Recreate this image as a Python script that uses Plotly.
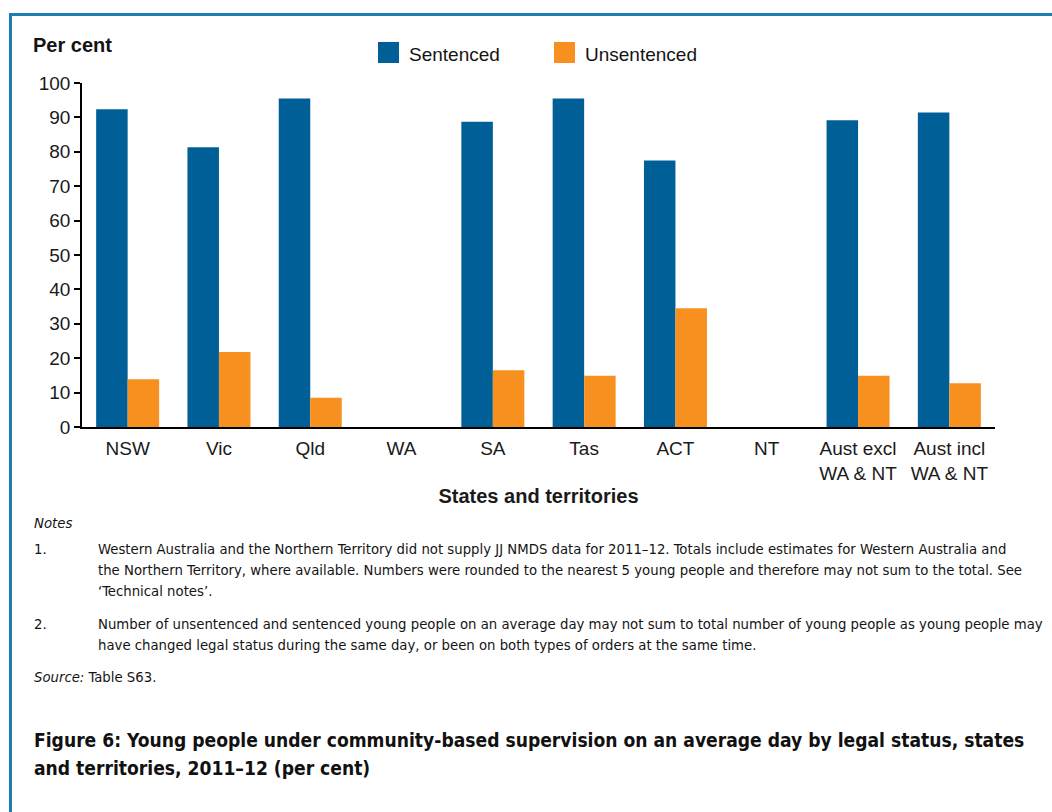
import plotly.graph_objects as go

# Data: share of young people under community-based supervision, 2011–12
categories = ["NSW", "Vic", "Qld", "WA", "SA", "Tas", "ACT", "NT",
              "Aust excl WA & NT", "Aust incl WA & NT"]
tick_labels = ["NSW", "Vic", "Qld", "WA", "SA", "Tas", "ACT", "NT",
               "Aust excl<br>WA & NT", "Aust incl<br>WA & NT"]
sentenced = [92.4, 81.3, 95.5, None, 88.7, 95.5, 77.5, None, 89.2, 91.4]
unsentenced = [13.9, 21.8, 8.5, None, 16.5, 14.9, 34.5, None, 14.9, 12.7]
y_ticks = list(range(0, 101, 10))

BLUE = "#005f96"
ORANGE = "#f7901e"
FRAME = "#1b7db2"

W, H = 1052, 812
L, R, T = 82, 995, 83
Y0 = 426.7  # pixel row of the zero line
PW, PH = R - L, Y0 - T

CHART_FONT = "Liberation Sans, Arial, sans-serif"
NOTE_FONT = "DejaVu Sans Condensed, sans-serif"


def px(x):
    return (x - L) / PW


def py(y):
    return (Y0 - y) / PH


fig = go.Figure()
fig.add_trace(go.Bar(x=categories, y=sentenced, name="Sentenced",
                     marker=dict(color=BLUE, line_width=0), showlegend=False))
fig.add_trace(go.Bar(x=categories, y=unsentenced, name="Unsentenced",
                     marker=dict(color=ORANGE, line_width=0), showlegend=False))

annotations = []
shapes = []


def text(x, y, s, size, family=NOTE_FONT, color="#141414", anchor="left"):
    annotations.append(dict(x=px(x), y=py(y), xref="paper", yref="paper",
                            text=s, showarrow=False, xanchor=anchor,
                            yanchor="middle", align="left",
                            font=dict(family=family, size=size, color=color)))


# Legend
for (x0, label, col) in [(378, "Sentenced", BLUE), (554, "Unsentenced", ORANGE)]:
    shapes.append(dict(type="rect", xref="paper", yref="paper",
                       x0=px(x0), x1=px(x0 + 21), y0=py(63), y1=py(42),
                       fillcolor=col, line_width=0))
    text(x0 + 29, 55, label, 19, family=CHART_FONT)

# Axis caption
text(31, 45, "<b>Per cent</b>", 20, family=CHART_FONT)

# Notes block
NS = 14.75
text(32, 522, "<i>Notes</i>", NS)
text(32, 548, "1.", NS)
text(96, 548, "Western Australia and the Northern Territory did not supply JJ NMDS data for 2011–12. "
              "Totals include estimates for Western Australia and", NS)
text(96, 569, "the Northern Territory, where available. Numbers were rounded to the nearest 5 young "
              "people and therefore may not sum to the total. See", NS)
text(96, 590, "‘Technical notes’.", NS)
text(32, 623, "2.", NS)
text(96, 623, "Number of unsentenced and sentenced young people on an average day may not sum to "
              "total number of young people as young people may", NS)
text(96, 644, "have changed legal status during the same day, or been on both types of orders "
              "at the same time.", NS)
text(32, 676, "<i>Source:</i> Table S63.", NS)
text(32, 740, "<b>Figure 6: Young people under community-based supervision on an average day "
              "by legal status, states</b>", 19.1, color="#111111")
text(32, 768, "<b>and territories, 2011–12 (per cent)</b>", 19.1, color="#111111")

# Frame lines along the top and left edges
shapes.append(dict(type="line", xref="paper", yref="paper",
                   x0=px(9), x1=px(W + 2), y0=py(14.5), y1=py(14.5),
                   line=dict(color=FRAME, width=3)))
shapes.append(dict(type="line", xref="paper", yref="paper",
                   x0=px(10.5), x1=px(10.5), y0=py(13), y1=py(H + 2),
                   line=dict(color=FRAME, width=3)))

fig.update_layout(
    width=W, height=H,
    margin=dict(l=L, r=W - R, t=T, b=H - Y0, pad=0),
    paper_bgcolor="white", plot_bgcolor="white",
    barmode="group", bargap=0.31, bargroupgap=0,
    font=dict(family=CHART_FONT, size=19, color="#1a1a1a"),
    annotations=annotations, shapes=shapes,
    xaxis=dict(tickvals=categories, ticktext=tick_labels, showline=True,
               linecolor="black", linewidth=2, ticks="", showgrid=False,
               tickfont=dict(size=19), zeroline=False, ticklabelstandoff=3,
               title=dict(text="<b>States and territories</b>",
                          font=dict(size=20), standoff=6)),
    yaxis=dict(range=[0, 100], tickvals=y_ticks, showline=True,
               linecolor="black", linewidth=1.5, ticks="outside", ticklen=6,
               tickcolor="black", tickwidth=1.5, showgrid=False, zeroline=False,
               tickfont=dict(size=19)),
)

fig.write_html("out.html")
